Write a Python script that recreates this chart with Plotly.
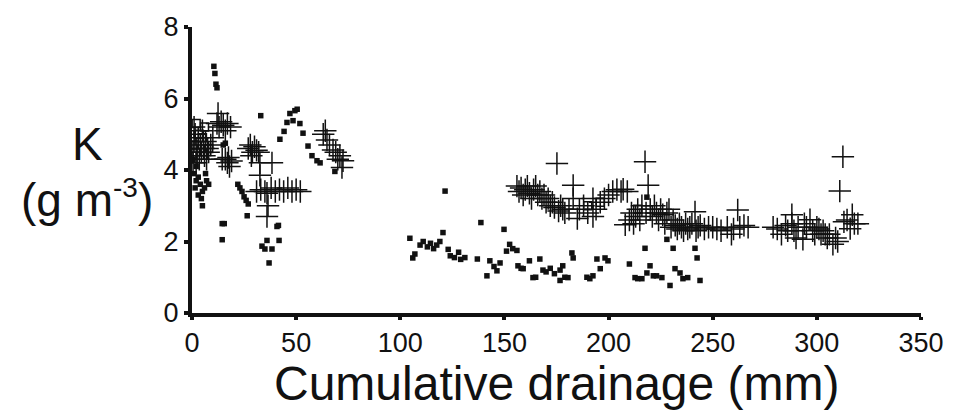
import plotly.graph_objects as go

# Dots (filled small squares)
dot_x = [1, 2, 3, 1.5, 4, 5, 6, 3, 4.5, 5, 7, 6.5, 2, 0.5, 8,
         10.5, 11, 11.5, 12, 14.5, 15.5, 14.5, 15, 16,
         22, 23, 24, 25, 26, 27, 26.5, 33,
         33.6, 35, 36, 37, 38.4, 40.8, 41.5, 41.8,
         42.2, 44.2, 45.6, 47, 48.5, 49.4, 50.5, 51.8, 53.3, 55.7, 57.6, 60, 61.5, 68.6,
         104.6, 106, 107, 109.5, 111, 113, 114.5, 116, 117.5, 119, 120.5, 121.5, 123, 124, 126, 128,
         129, 131, 137, 138.7, 141.6, 143, 145, 146.4, 147.9, 149.8, 151, 152.5, 154, 156, 156.5,
         158, 159, 162, 163.7, 165, 167, 168.5, 170, 172, 174, 176.7, 176.7, 178, 179, 180.5, 182.4,
         183, 189.6, 191, 192.5, 194.4, 196, 198.3, 199.7, 210, 212.7, 214, 216, 217.5, 218.4, 218.4,
         219.9, 221.5, 223, 225.6, 228, 229.5, 231, 231.9, 234.3, 235.7, 238, 241.5, 242.5, 243.9]
dot_y = [3.9, 3.7, 3.8, 3.5, 3.6, 3.4, 3.5, 3.3, 3.2, 3.0, 3.7, 3.9, 4.1, 4.3, 3.6,
         6.9, 6.7, 6.4, 6.3, 2.5, 2.5, 2.05, 4.7, 4.75,
         3.6, 3.5, 3.4, 3.25, 3.15, 3.05, 2.72, 5.52,
         1.87, 1.79, 2.03, 1.40, 1.79, 2.42, 2.45, 2.03,
         4.86, 5.08, 5.33, 5.58, 5.38, 5.66, 5.70, 5.30, 5.03, 4.67, 4.40, 4.26, 4.2, 3.96,
         2.09, 1.54, 1.65, 1.9, 2.0, 1.85, 1.95, 1.8, 1.9, 2.0, 2.25, 3.41, 1.78, 1.6, 1.55, 1.7,
         1.5, 1.55, 1.51, 2.53, 1.04, 1.46, 1.3, 1.18, 1.40, 2.34, 1.73, 1.92, 1.8, 1.75, 1.32,
         1.25, 1.24, 1.46, 0.99, 1.0, 1.51, 1.2, 1.15, 1.25, 1.1, 1.2, 0.91, 1.32, 1.0, 0.99, 1.68,
         1.54, 1.0, 0.96, 1.04, 1.51, 1.24, 1.54, 1.46, 1.37, 0.99, 0.96, 0.96, 1.81, 3.24, 1.12,
         1.32, 1.04, 1.04, 0.99, 2.06, 0.77, 1.81, 1.24, 1.12, 0.96, 0.99, 1.81, 1.54, 0.91]

# Crosses
cross_x = [0.5, 1, 1.5, 2, 2.5, 3, 3.5, 4, 4.5, 5, 5.5, 6, 6.5, 7, 7.5, 8, 9, 10, 1, 0.5, 2,
           12.5, 12, 13, 14, 15, 16, 17, 18.5, 16, 17, 17.5, 18, 19, 14.5,
           27, 28, 29, 30, 31, 32, 28.5, 32.6, 38.4, 32.6,
           31, 33, 35, 36, 38, 40, 42, 44, 46, 48, 50, 52, 36.5, 36,
           63, 64, 64.8, 66, 67.7, 69, 71, 72.5, 72, 70,
           156, 157, 158, 159, 160, 161, 162, 163, 164, 165, 166, 167, 168, 169, 170, 171, 172, 173,
           174, 175.2, 176, 177, 178, 179, 181, 183, 183, 185, 186, 188, 190, 192.5, 192.5, 194, 196,
           198, 200, 202, 204, 206, 207, 209, 208, 210, 211, 212, 213, 214, 215, 216, 217.5, 219,
           218, 220, 221, 222, 223, 224, 225, 226, 227, 228, 229, 230, 231, 232, 233, 234, 235, 236,
           237, 238, 239, 240, 241.5, 242, 243, 244, 246, 248, 250, 252, 254, 257, 259, 260, 262,
           263, 265, 267,
           279, 281, 283, 285, 286, 288, 288, 289, 290, 291, 293.3, 294, 295, 296.7, 298, 299, 300,
           301, 302, 303, 304, 305, 306, 307.7, 309, 310, 311, 312.5, 313, 314.5, 316, 317, 318, 319.7]
cross_y = [4.5, 4.8, 5.0, 4.6, 4.4, 4.9, 4.3, 4.7, 4.5, 5.1, 4.6, 4.4, 4.8, 4.3, 4.6, 4.5, 4.7, 4.9, 5.2, 4.2, 4.2,
           5.58, 5.3, 5.2, 5.35, 5.25, 5.1, 5.3, 5.2, 4.3, 4.2, 4.35, 4.1, 4.25, 4.3,
           4.6, 4.7, 4.5, 4.65, 4.55, 4.5, 4.4, 4.2, 4.2, 3.85,
           3.4, 3.45, 3.4, 3.35, 3.5, 3.4, 3.45, 3.4, 3.5, 3.4, 3.45, 3.4, 3.0, 2.7,
           5.0, 5.1, 4.84, 4.7, 4.56, 4.5, 4.4, 4.26, 4.07, 4.3,
           3.55, 3.4, 3.5, 3.3, 3.45, 3.55, 3.35, 3.2, 3.45, 3.55, 3.3, 3.4, 3.2, 3.3, 3.1, 3.2, 3.0, 3.1,
           2.95, 4.18, 2.85, 3.0, 2.9, 2.8, 2.9, 3.57, 3.2, 2.64, 2.9, 3.0, 2.8, 3.2, 2.7, 2.9, 3.1,
           3.2, 3.3, 3.4, 3.45, 3.4, 3.46, 3.4, 2.47, 2.6, 2.8, 2.5, 2.7, 2.9, 2.6, 3.0, 4.23, 3.57,
           2.8, 2.9, 2.7, 3.0, 2.8, 2.6, 2.9, 2.75, 2.5, 2.8, 2.9, 2.4, 2.6, 2.45, 2.35, 2.5, 2.4, 2.3,
           2.5, 2.35, 2.4, 2.5, 2.83, 2.3, 2.4, 2.45, 2.35, 2.4, 2.4, 2.35, 2.3, 2.4, 2.2, 2.35, 2.88,
           2.4, 2.45, 2.4,
           2.4, 2.35, 2.2, 2.45, 2.3, 2.75, 2.5, 2.3, 2.1, 2.4, 2.06, 2.5, 2.4, 2.61, 2.3, 2.2, 2.4,
           2.35, 2.2, 2.3, 2.2, 2.1, 2.2, 1.92, 2.1, 2.0, 3.41, 4.37, 2.55, 2.6, 2.36, 2.75, 2.5, 2.5]

# Open squares
sq_x = [2, 3.5, 5, 6, 1, 8, 190, 196, 214]
sq_y = [5.3, 5.0, 4.9, 5.2, 4.7, 4.6, 3.0, 3.1, 2.9]

x_ticks = [0, 50, 100, 150, 200, 250, 300, 350]
y_ticks = [0, 2, 4, 6, 8]

INK = "#111111"
FONT = "Liberation Sans, Arial, Helvetica, sans-serif"

fig = go.Figure()
fig.add_trace(go.Scatter(x=dot_x, y=dot_y, mode="markers",
                         marker=dict(symbol="square", size=5.5, color=INK, line=dict(width=0)),
                         showlegend=False))
fig.add_trace(go.Scatter(x=sq_x, y=sq_y, mode="markers",
                         marker=dict(symbol="square-open", size=8, color=INK, line=dict(width=1.5)),
                         showlegend=False))
fig.add_trace(go.Scatter(x=cross_x, y=cross_y, mode="markers",
                         marker=dict(symbol="cross-thin-open", size=16, color=INK, line=dict(width=1.5, color=INK)),
                         showlegend=False))

fig.update_layout(
    width=962, height=414,
    margin=dict(l=192, r=41, t=22, b=101),
    paper_bgcolor="white", plot_bgcolor="white",
    font=dict(family=FONT, color=INK),
    xaxis=dict(range=[0, 350], tickvals=x_ticks, ticktext=[str(v) for v in x_ticks],
               showgrid=False, zeroline=False, showline=True, linewidth=4, linecolor=INK,
               ticks="outside", ticklen=3, tickwidth=4, tickcolor=INK,
               tickfont=dict(size=27, family=FONT, color=INK)),
    yaxis=dict(range=[0, 8], tickvals=y_ticks, ticktext=[str(v) for v in y_ticks],
               showgrid=False, zeroline=False, showline=True, linewidth=4, linecolor=INK,
               ticks="outside", ticklen=4, tickwidth=4, tickcolor=INK,
               tickfont=dict(size=27, family=FONT, color=INK)),
    annotations=[
        dict(text="Cumulative drainage (mm)", xref="paper", yref="paper",
             x=0.5, y=-0.245, xanchor="center", yanchor="middle", showarrow=False,
             font=dict(size=48, family=FONT, color=INK)),
        dict(text="K", xref="paper", yref="paper",
             x=-0.144, y=0.591, xanchor="center", yanchor="middle", showarrow=False,
             font=dict(size=46, family=FONT, color=INK)),
        dict(text="(g m<sup><span style='font-size:28px'>-3</span></sup>)", xref="paper", yref="paper",
             x=-0.144, y=0.40, xanchor="center", yanchor="middle", showarrow=False,
             font=dict(size=46, family=FONT, color=INK)),
    ],
)

fig.write_html("out.html", config={"displayModeBar": False},
               post_script="document.body.style.margin='0';document.body.style.overflow='hidden';")
